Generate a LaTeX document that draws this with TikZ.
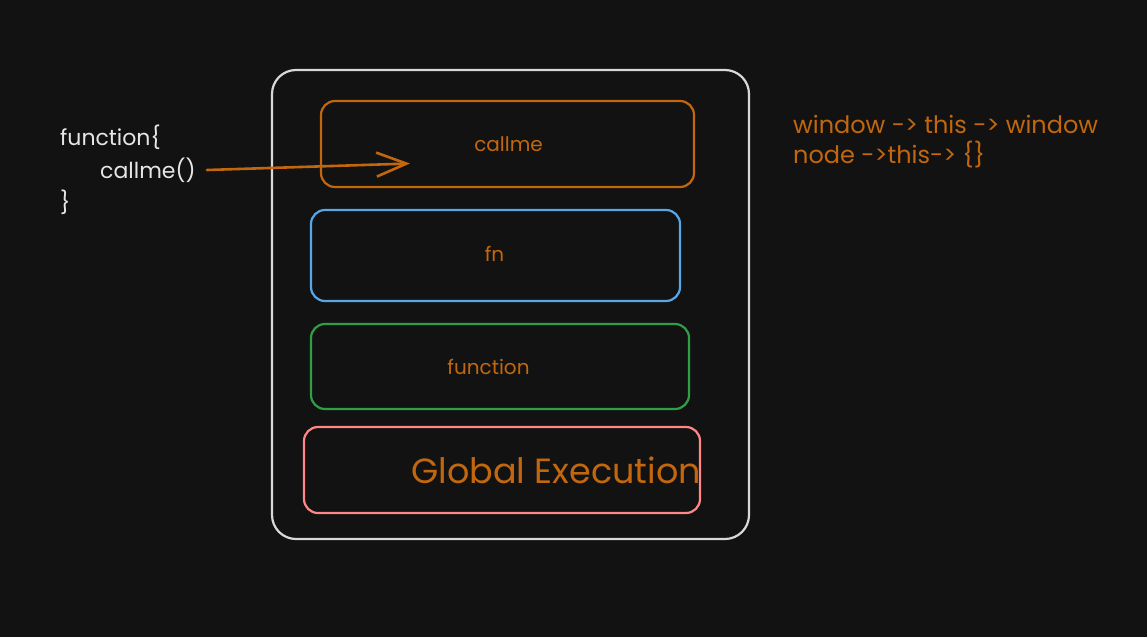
\documentclass[tikz,border=0pt]{standalone}
\usepackage{fontspec}
\setmainfont{Poppins}
\usetikzlibrary{arrows.meta}
\definecolor{bg}{HTML}{121212}
\definecolor{org}{HTML}{C2670E}
\definecolor{blu}{HTML}{58A6E6}
\definecolor{grn}{HTML}{2F9E44}
\definecolor{rd}{HTML}{FF8787}
\definecolor{wht}{HTML}{D8D8D8}
\definecolor{txt}{HTML}{E6E6E6}
\tikzset{
  box/.style={draw, line width=2.2pt, rounded corners=14pt, inner sep=0pt},
  lbl/.style={text=org, font=\fontsize{20}{24}\selectfont, inner sep=0pt},
  code/.style={text=txt, anchor=west, inner sep=0pt, font=\fontsize{22}{26}\selectfont},
  note/.style={text=org, anchor=west, inner sep=0pt, font=\fontsize{24}{28}\selectfont},
}
\begin{document}
\begin{tikzpicture}[x=1pt,y=-1pt]
\useasboundingbox[fill=bg] (0,0) rectangle (1147,637);
% outer frame
\node[box, draw=wht, rounded corners=24pt, minimum width=477pt, minimum height=469pt] (outer) at (510.5,304.5) {};
% stack frames
\node[box, draw=org, minimum width=373pt, minimum height=86pt] (callme) at (507.5,144) {};
\node[lbl] (callmet) at (508.5,144) {callme};
\node[box, draw=blu, minimum width=369pt, minimum height=91pt] (fn) at (495.5,255.5) {};
\node[lbl] (fnt) at (494.5,254) {fn};
\node[box, draw=grn, minimum width=378pt, minimum height=85pt] (func) at (500,366.5) {};
\node[lbl] (funct) at (488.5,367) {function};
\node[box, draw=rd, minimum width=396pt, minimum height=86pt] (global) at (502,470) {};
\node[text=org, font=\fontsize{35}{40}\selectfont, anchor=west, inner sep=0pt] (globalt) at (411,470) {Global Execution};
% left code
\node[code] (l1) at (60,137) {function\{};
\node[code] (l2) at (100,170) {callme()};
\node[code] (l3) at (60,202) {\}};
% right text
\node[note] (r1) at (793,124) {window -> this -> window};
\node[note] (r2) at (793,155) {node ->this-> \{\}};
% arrow
\coordinate (as) at (207,170);
\coordinate (ae) at (410,163.5);
\draw[org, line width=2.6pt, line cap=round, -{Straight Barb[length=30pt,width=24pt,line width=2.6pt]}] (as) -- (ae);
\end{tikzpicture}
\end{document}
